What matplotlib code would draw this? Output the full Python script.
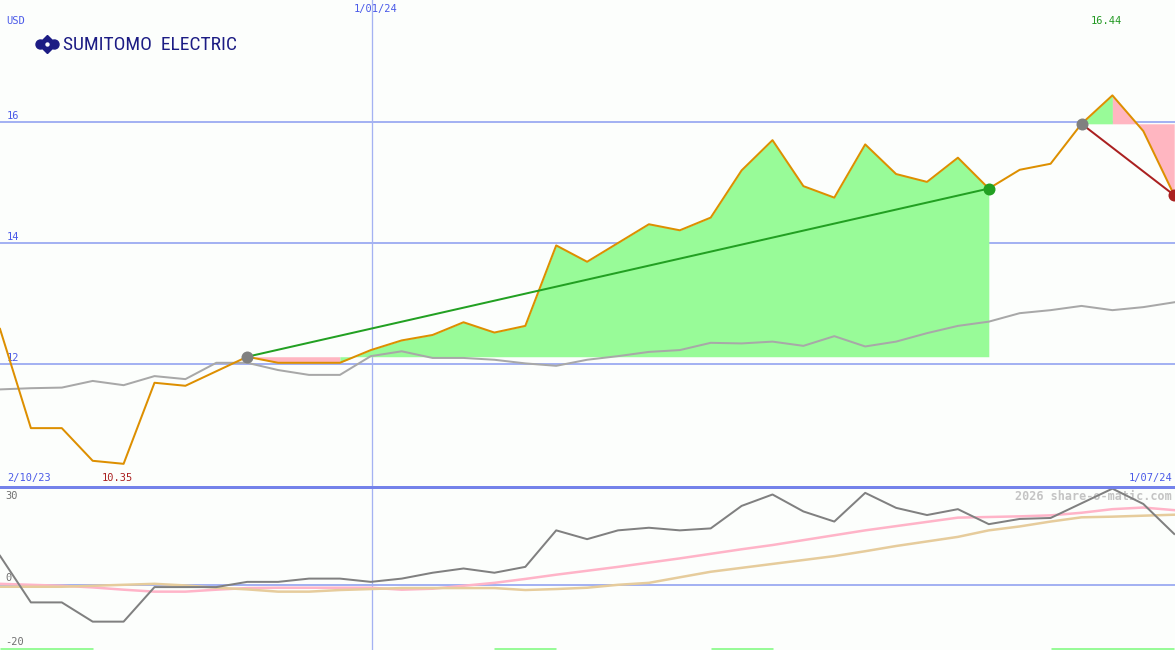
import numpy as np
import matplotlib
matplotlib.use("Agg")
import matplotlib.pyplot as plt
import matplotlib.transforms as mtransforms
from matplotlib import font_manager

# ---------------- data ----------------
prices = [12.58, 10.94, 10.94, 10.40, 10.35, 11.69, 11.64, 11.88, 12.12, 12.02,
          12.02, 12.02, 12.23, 12.39, 12.48, 12.69, 12.52, 12.63, 13.96, 13.69,
          14.00, 14.31, 14.21, 14.42, 15.20, 15.70, 14.94, 14.75, 15.63, 15.14,
          15.01, 15.41, 14.90, 15.21, 15.31, 15.97, 16.44, 15.85, 14.79]
moving_avg = [11.58, 11.60, 11.61, 11.72, 11.65, 11.80, 11.75, 12.02, 12.02, 11.90,
              11.82, 11.82, 12.13, 12.21, 12.10, 12.10, 12.07, 12.01, 11.97, 12.07,
              12.13, 12.20, 12.23, 12.35, 12.34, 12.37, 12.30, 12.46, 12.29, 12.37,
              12.51, 12.63, 12.70, 12.84, 12.89, 12.96, 12.89, 12.94, 13.02]
momentum = [8.9, -5.4, -5.4, -11.3, -11.3, -0.7, -0.7, -0.7, 0.9, 0.9,
            1.9, 1.9, 0.9, 1.9, 3.7, 5.0, 3.7, 5.5, 16.7, 14.0,
            16.7, 17.5, 16.7, 17.3, 24.2, 27.7, 22.5, 19.4, 28.2, 23.6,
            21.4, 23.2, 18.6, 20.2, 20.5, 25.0, 29.5, 24.8, 15.6]
signal_pink = [0.3, 0.0, -0.3, -0.8, -1.5, -2.1, -2.1, -1.5, -1.0, -0.9,
               -0.9, -0.9, -0.9, -1.5, -1.2, -0.3, 0.6, 1.8, 3.1, 4.3,
               5.5, 6.8, 8.1, 9.5, 10.9, 12.2, 13.7, 15.2, 16.7, 18.0,
               19.3, 20.6, 20.8, 21.0, 21.3, 22.1, 23.2, 23.7, 22.9]
signal_tan = [-0.6, -0.6, -0.6, -0.3, 0.0, 0.3, -0.2, -0.9, -1.4, -2.1,
              -2.1, -1.6, -1.3, -1.0, -1.0, -1.0, -1.0, -1.6, -1.3, -0.9,
              0.0, 0.6, 2.3, 4.0, 5.2, 6.4, 7.6, 8.8, 10.3, 11.9,
              13.3, 14.7, 16.7, 17.9, 19.4, 20.7, 20.9, 21.2, 21.5]
buy_zones = [(0, 3), (16, 18), (23, 25), (34, 38)]
trade_entries = [8, 35]
trade_exits = [32, 38]
trade_colors = ['#22a022', '#aa2020']
# segments of each trade fill: (start, end, colour)
trade_fills = [[(8, 11, '#ffb6c1'), (11, 32, '#98fb98')],
               [(35, 36, '#98fb98'), (36, 38, '#ffb6c1')]]
price_grid = [12, 14, 16]
year_line_idx = 12.04
label_start = '2/10/23'
label_end = '1/07/24'
label_year = '1/01/24'
currency = 'USD'
company = 'SUMITOMO  ELECTRIC'
watermark = '2026 share-o-matic.com'

# ---------------- figure ----------------
W, H = 1175, 650
MAIN_H = 487
BG = '#fcfefc'
GRID = '#a4b2f2'
BLUE_TXT = '#4a5ae8'
MONO = 'DejaVu Sans Mono'
FS = 7.5

# pick the narrowest available sans family for the logo text
installed = {f.name for f in font_manager.fontManager.ttflist}
logo_family = 'DejaVu Sans'
logo_size = 11.5
for fam, size in [('Roboto Condensed', 14), ('Liberation Sans Narrow', 14),
                  ('DejaVu Sans Condensed', 12.2), ('Roboto', 12.6)]:
    if fam in installed:
        logo_family, logo_size = fam, size
        break

fig = plt.figure(figsize=(W / 100, H / 100), dpi=100, facecolor=BG)
ax = fig.add_axes([0, (H - MAIN_H) / H, 1, MAIN_H / H])
axl = fig.add_axes([0, 0, 1, (H - MAIN_H) / H])
for a in (ax, axl):
    a.set_facecolor(BG)
    for s in a.spines.values():
        s.set_visible(False)
    a.set_xticks([])
    a.set_yticks([])

n = len(prices)
x = np.arange(n)
step = 30.9
xmax = W / step
ax.set_xlim(0, xmax)
axl.set_xlim(0, xmax)
ax.set_ylim(16 - (MAIN_H - 122) / 60.5, 16 + 122 / 60.5)
axl.set_ylim(-20, 30)

px = 1 / 1.389  # one pixel in points

# ---- main panel ----
for g in price_grid:
    ax.axhline(g, color=GRID, lw=2 * px, zorder=1)
    ax.text(7 / W, g + 0.015, str(g), transform=mtransforms.blended_transform_factory(ax.transAxes, ax.transData),
            ha='left', va='bottom', fontsize=FS, family=MONO, color=BLUE_TXT)
ax.axvline(year_line_idx, color=GRID, lw=1.3 * px, zorder=1)
axl.axvline(year_line_idx, color=GRID, lw=1.3 * px, zorder=1)

p = np.array(prices)
for entry, fills in zip(trade_entries, trade_fills):
    base = prices[entry]
    for s, e, c in fills:
        m = (x >= s) & (x <= e)
        ax.fill_between(x, p, base, where=m, color=c, lw=0, zorder=2)

ax.plot(x, moving_avg, color='#a8a8a8', lw=2 * px, zorder=3)
ax.plot(x, prices, color='#dd8f00', lw=2 * px, zorder=4)

for entry, ex, c in zip(trade_entries, trade_exits, trade_colors):
    ax.plot([entry, ex], [prices[entry], prices[ex]], color=c, lw=2 * px, zorder=5)
    ax.plot(entry, prices[entry], 'o', ms=12 * px, color='#808080', mec='none', zorder=6, clip_on=False)
    ax.plot(ex, prices[ex], 'o', ms=12 * px, color=c, mec='none', zorder=6)

imax = int(np.argmax(prices))
imin = int(np.argmin(prices))
btr = mtransforms.blended_transform_factory(ax.transData, ax.transAxes)
ax.text(imax - 0.2, 1 - 21 / MAIN_H, f'{prices[imax]:.2f}', transform=btr, ha='center', va='center',
        fontsize=FS, family=MONO, color='#229922')
ax.text(imin - 0.2, 1 - 478 / MAIN_H, f'{prices[imin]:.2f}', transform=btr, ha='center', va='center',
        fontsize=FS, family=MONO, color='#aa2020')
ax.text(year_line_idx + 0.1, 1 - 9 / MAIN_H, label_year, transform=btr, ha='center', va='center',
        fontsize=FS, family=MONO, color=BLUE_TXT)
ax.text(6 / W, 1 - 21 / MAIN_H, currency, transform=ax.transAxes, ha='left', va='center',
        fontsize=FS, family=MONO, color=BLUE_TXT)
ax.text(7 / W, 1 - 478 / MAIN_H, label_start, transform=ax.transAxes, ha='left', va='center',
        fontsize=FS, family=MONO, color=BLUE_TXT)
ax.text(1172 / W, 1 - 478 / MAIN_H, label_end, transform=ax.transAxes, ha='right', va='center',
        fontsize=FS, family=MONO, color=BLUE_TXT)

# logo
NAVY = '#1c1c84'
ax.plot([47 / W], [1 - 44 / MAIN_H], marker='D', ms=13 * px, color=NAVY, transform=ax.transAxes, clip_on=False)
for dx in (-7, 7):
    ax.plot([(47 + dx) / W], [1 - 44 / MAIN_H], marker='o', ms=9 * px, color=NAVY,
            transform=ax.transAxes, clip_on=False)
ax.plot([47 / W], [1 - 44 / MAIN_H], marker='o', ms=3 * px, color='white', transform=ax.transAxes, clip_on=False)
ax.text(63 / W, 1 - 45 / MAIN_H, company, transform=ax.transAxes, ha='left', va='center',
        fontsize=logo_size, family=logo_family, color=NAVY)

# ---- lower panel ----
axl.axhline(0, color=GRID, lw=2 * px, zorder=1)
axl.axhline(30, color='#7482ea', lw=3 * px, zorder=7, clip_on=False)
axl.plot(x, signal_pink, color='#ffb4c8', lw=2.5 * px, zorder=2)
axl.plot(x, signal_tan, color='#e6cc9c', lw=2.5 * px, zorder=3)
axl.plot(x, momentum, color='#808080', lw=2 * px, zorder=4)
for s, e in buy_zones:
    axl.plot([s, e], [-19.55, -19.55], color='#98fb98', lw=3 * px, solid_capstyle='butt', zorder=5)

ltr = mtransforms.blended_transform_factory(axl.transAxes, axl.transData)
axl.text(5 / W, 27.3, '30', transform=ltr, ha='left', va='center', fontsize=FS, family=MONO, color='#707070')
axl.text(5 / W, 0.4, '0', transform=ltr, ha='left', va='bottom', fontsize=FS, family=MONO, color='#707070')
axl.text(5 / W, -17.5, '-20', transform=ltr, ha='left', va='center', fontsize=FS, family=MONO, color='#707070')
axl.text(1172 / W, 1 - 9 / (H - MAIN_H), watermark, transform=axl.transAxes, ha='right', va='center',
         fontsize=8.5, family=MONO, fontweight='bold', color='#c4c4c4')

fig.savefig('out.png', dpi=100, facecolor=BG)
